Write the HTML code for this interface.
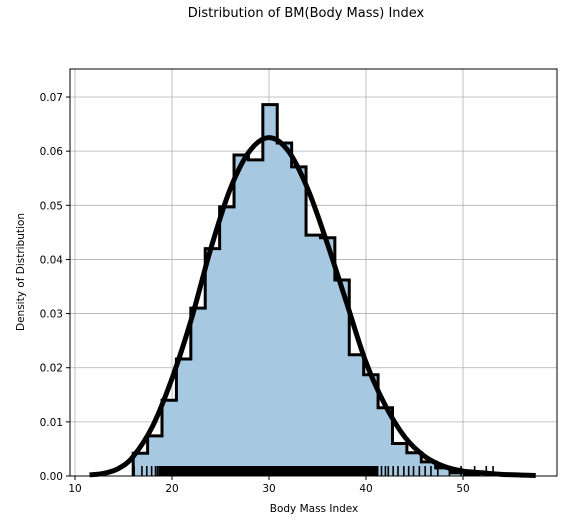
<!DOCTYPE html>
<html><head><meta charset="utf-8"><style>
html,body{margin:0;padding:0;background:#fff;}
svg text{font-family:"DejaVu Sans","Liberation Sans",sans-serif;font-size:10.5px;fill:#000;}
</style></head><body>
<svg id="chart" width="577" height="517" viewBox="0 0 577 517" xmlns="http://www.w3.org/2000/svg">
<text x="306" y="17" text-anchor="middle" style="font-size:13px">Distribution of BM(Body Mass) Index</text>
<g id="grid"></g>
<g id="bars"></g>
<g id="rug"></g>
<g id="kde"></g>
<rect x="70" y="69" width="487" height="407" fill="none" stroke="#000" stroke-width="1"/>
<g id="axes"></g>
<text x="314" y="512" text-anchor="middle">Body Mass Index</text>
<text transform="translate(24,272) rotate(-90)" text-anchor="middle">Density of Distribution</text>
</svg>
<script>
const binStart = 16.0;
const binWidth = 1.485;
const binHeights = [0.0042,0.0074,0.014,0.0216,0.031,0.042,0.0497,0.0593,0.0584,0.0686,0.0615,0.0571,0.0445,0.044,0.0362,0.0224,0.0187,0.0126,0.006,0.0043,0.0026,0.0015,0.0006,0.0003,0.0005];
const kdeX = [11.5,13,14.5,16,18,20,22,24,26,28,30,32,34,36,38,40,42,44,46,48,50,52,54,57.5];
const kdeY = [0.0002,0.0005,0.0014,0.0036,0.0092,0.018,0.029,0.042,0.053,0.0600,0.0625,0.0600,0.053,0.043,0.032,0.021,0.013,0.0072,0.0037,0.0018,0.0009,0.0006,0.0003,0.0001];
const xTicks = [10,20,30,40,50];
const yTicks = [0,0.01,0.02,0.03,0.04,0.05,0.06,0.07];
const yTickLabels = ["0.00","0.01","0.02","0.03","0.04","0.05","0.06","0.07"];
const rugValues = [16.1,16.9,17.4,17.9,18.3,18.5,18.8,19.0,19.2,19.5,19.7,20.0,20.3,20.6,21,21.4,21.8,22.2,22.6,23,23.4,23.8,24.2,24.6,25,25.4,25.8,26.2,26.6,27,27.4,27.8,28.2,28.6,29,29.4,29.8,30.2,30.6,31,31.4,31.8,32.2,32.6,33,33.4,33.8,34.2,34.6,35,35.4,35.8,36.2,36.6,37,37.4,37.8,38.2,38.6,39,39.4,39.8,40.2,40.6,41,41.2,41.6,42.0,42.3,42.8,43.3,43.9,44.4,44.9,45.5,46.1,46.7,47.4,48.6,49.8,51.2,52.4,53.1];
const NS='http://www.w3.org/2000/svg';
const X0=70,X1=557,Y0=476,Y1=69;
const xs=v=>75+(v-10)*9.7;
const ys=v=>476-v*5414;
function mk(tag,parent,attrs){const e=document.createElementNS(NS,tag);for(const k in attrs)e.setAttribute(k,attrs[k]);document.getElementById(parent).appendChild(e);return e;}
xTicks.forEach(t=>{
  const l=mk('line','grid',{x1:xs(t),x2:xs(t),y1:Y1,y2:Y0,stroke:'#b0b0b0','stroke-width':0.8});
  
  
  const tk=mk('line','axes',{x1:xs(t),x2:xs(t),y1:Y0,y2:Y0+4,stroke:'#000'});
  
  
  const tx=mk('text','axes',{x:xs(t),y:Y0+16,'text-anchor':'middle'});
  tx.textContent=t;
  
  
});
yTicks.forEach((t,i)=>{
  const l=mk('line','grid',{x1:X0,x2:X1,y1:ys(t),y2:ys(t),stroke:'#b0b0b0','stroke-width':0.8});
  
  
  const tk=mk('line','axes',{x1:X0-4,x2:X0,y1:ys(t),y2:ys(t),stroke:'#000'});
  
  
  const tx=mk('text','axes',{x:X0-7,y:ys(t)+4,'text-anchor':'end'});
  tx.textContent=yTickLabels[i];
  
  
});
// step histogram
let sd='M'+xs(binStart)+','+Y0;
binHeights.forEach((h,i)=>{
  const a=binStart+i*binWidth,b=a+binWidth;
  sd+=' L'+xs(a)+','+ys(h)+' L'+xs(b)+','+ys(h);
});
sd+=' L'+xs(binStart+binHeights.length*binWidth)+','+Y0;
const fillP=mk('path','bars',{d:sd+' Z',fill:'#a6c8e1',stroke:'none'});


const stepP=mk('path','bars',{d:sd,fill:'none',stroke:'#000','stroke-width':3,'stroke-linejoin':'miter'});


rugValues.forEach(v=>{
  const l=mk('line','rug',{x1:xs(v),x2:xs(v),y1:Y0-10,y2:Y0,stroke:'#000','stroke-width':1.6});
  
  
});
const rugBand=mk('rect','rug',{x:xs(18.6),y:Y0-10,width:xs(41.2)-xs(18.6),height:10,fill:'#000'});


// kde smooth curve
const P=kdeX.map((x,i)=>[xs(x),ys(kdeY[i])]);
let d='M'+P[0][0]+','+P[0][1];
for(let i=0;i<P.length-1;i++){
  const p0=P[Math.max(0,i-1)],p1=P[i],p2=P[i+1],p3=P[Math.min(P.length-1,i+2)];
  const c1=[p1[0]+(p2[0]-p0[0])/6,p1[1]+(p2[1]-p0[1])/6];
  const c2=[p2[0]-(p3[0]-p1[0])/6,p2[1]-(p3[1]-p1[1])/6];
  d+=' C'+c1+' '+c2+' '+p2;
}
const path=mk('path','kde',{d:d,fill:'none',stroke:'#000','stroke-width':5,'stroke-linejoin':'round'});


</script>
</body></html>
